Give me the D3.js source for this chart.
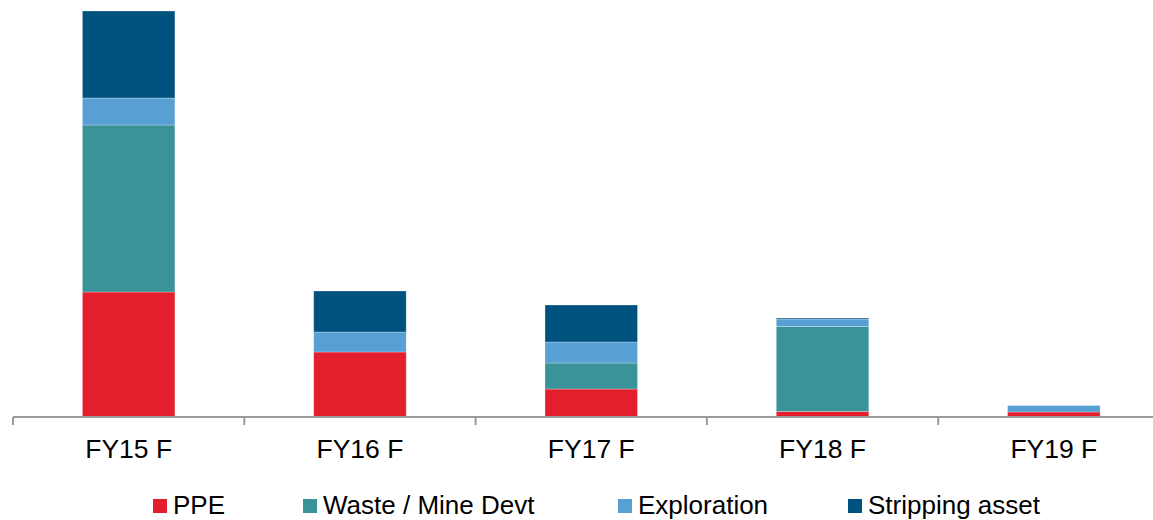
<!DOCTYPE html>
<html>
<head>
<meta charset="utf-8">
<script src="https://cdn.jsdelivr.net/npm/d3@7"></script>
<style>
  body { margin: 0; background: #fff; }
  text { font-family: "Liberation Sans", Arial, sans-serif; fill: #000; }
</style>
</head>
<body>
<svg id="chart" width="1153" height="520"></svg>
<script>
const years = ['FY15 F', 'FY16 F', 'FY17 F', 'FY18 F', 'FY19 F']
const seriesNames = ['PPE', 'Waste / Mine Devt', 'Exploration', 'Stripping asset']
const ppe = [125, 65, 28, 5.5, 5]
const waste = [167, 0, 26, 85, 0]
const exploration = [27, 20, 21, 7.5, 6.5]
const stripping = [87, 41, 37, 1, 0]

const colors = ['#e31f2d', '#3a9398', '#589fd3', '#00527e']

const svg = d3.select('#chart')
const baseY = 417
const left = 13
const step = 231.3

const data = years.map((y, i) => ({
  year: y,
  'PPE': ppe[i],
  'Waste / Mine Devt': waste[i],
  'Exploration': exploration[i],
  'Stripping asset': stripping[i]
}))

const xScale = d3.scaleBand()
  .domain(years)
  .range([left, left + step * years.length])
  .paddingInner(0.6)
  .paddingOuter(0.3)

const yScale = d3.scaleLinear()
  .domain([0, 407])
  .range([baseY, 10])

const stack = d3.stack().keys(seriesNames)(data)

svg.selectAll('g.layer')
  .data(stack)
  .enter()
  .append('g')
    .attr('class', 'layer')
    .attr('fill', (d, i) => colors[i])
  .selectAll('rect')
  .data(d => d)
  .enter()
  .append('rect')
    .attr('x', d => xScale(d.data.year))
    .attr('width', xScale.bandwidth())
    .attr('y', d => yScale(d[1]))
    .attr('height', d => yScale(d[0]) - yScale(d[1]))
    .attr('stroke', 'rgba(255,255,255,0.35)')
    .attr('stroke-width', 0.8)

// axis line with category ticks between groups
const axisG = svg.append('g')
axisG.append('line')
  .attr('x1', left).attr('x2', 1153)
  .attr('y1', baseY).attr('y2', baseY)
  .attr('stroke', '#9a9a9a').attr('stroke-width', 2)

axisG.selectAll('line.tick')
  .data(d3.range(years.length))
  .enter()
  .append('line')
    .attr('class', 'tick')
    .attr('x1', i => left + i * step)
    .attr('x2', i => left + i * step)
    .attr('y1', baseY)
    .attr('y2', baseY + 8)
    .attr('stroke', '#9a9a9a').attr('stroke-width', 2)

axisG.selectAll('text.cat')
  .data(years)
  .enter()
  .append('text')
    .attr('class', 'cat')
    .attr('x', d => xScale(d) + xScale.bandwidth() / 2)
    .attr('y', 458)
    .attr('text-anchor', 'middle')
    .style('font-size', '26.5px')
    .text(d => d)

// legend
const legendX = [153, 303, 618, 848]
const legend = svg.selectAll('g.legend')
  .data(seriesNames)
  .enter()
  .append('g')
    .attr('class', 'legend')
    .attr('transform', (d, i) => `translate(${legendX[i]}, 0)`)

legend.append('rect')
  .attr('x', 0).attr('y', 499)
  .attr('width', 14).attr('height', 14)
  .attr('fill', (d, i) => colors[i])

legend.append('text')
  .attr('x', 20).attr('y', 514)
  .style('font-size', '26px')
  .text(d => d)
</script>
</body>
</html>
